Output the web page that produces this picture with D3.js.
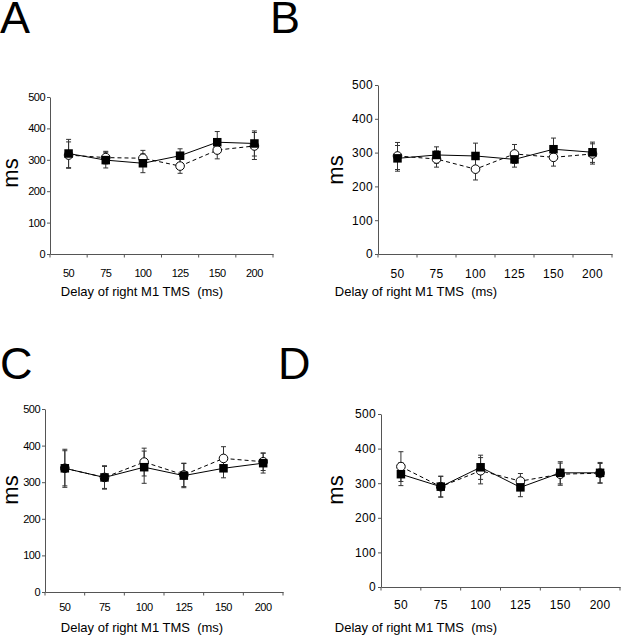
<!DOCTYPE html>
<html>
<head>
<meta charset="utf-8">
<script src="https://cdn.jsdelivr.net/npm/d3@7"></script>
<style>
  html, body { margin: 0; padding: 0; background: #fff; }
  svg { display: block; font-family: "Liberation Sans", Arial, sans-serif; }
</style>
</head>
<body>
<svg id="chart" width="621" height="640"></svg>
<script>
// ---- data ----
const categories = ["50", "75", "100", "125", "150", "200"];
const yTicks = [0, 100, 200, 300, 400, 500];
const panelLabels = ["A", "B", "C", "D"];
const xTitle = "Delay of right M1 TMS  (ms)";
const yTitle = "ms";

// filled squares (solid line)
const squareA = [320, 299, 289, 313, 356, 352];
const squareErrA = [45, 25, 30, 22, 34, 40];
const squareB = [283, 293, 290, 280, 310, 301];
const squareErrB = [38, 24, 38, 23, 33, 30];
const squareC = [338, 313, 341, 318, 338, 352];
const squareErrC = [48, 30, 44, 33, 26, 27];
const squareD = [326, 290, 346, 288, 330, 330];
const squareErrD = [33, 30, 35, 27, 32, 30];

// open circles (dashed line)
const circleA = [315, 307, 305, 280, 331, 344];
const circleErrA = [42, 20, 25, 23, 28, 43];
const circleB = [290, 281, 251, 296, 286, 296];
const circleErrB = [40, 24, 32, 28, 26, 30];
const circleC = [338, 313, 355, 320, 365, 356];
const circleErrC = [52, 32, 38, 32, 32, 24];
const circleD = [348, 290, 336, 306, 326, 329];
const circleErrD = [43, 30, 38, 22, 32, 28];

// ---- layout ----
const panels = [
  { label: panelLabels[0], lx: 0,   ly: 33,  x0: 50,  x1: 273, yb: 254, yt: 97,
    sq: squareA, sqe: squareErrA, ci: circleA, cie: circleErrA,
    tickFont: 11, tickLS: -0.5, xLabelOff: 15, titleX: 142, titleY: 296, msX: 18, msY: 173 },
  { label: panelLabels[1], lx: 270, ly: 33,  x0: 378, x1: 612, yb: 254, yt: 85,
    sq: squareB, sqe: squareErrB, ci: circleB, cie: circleErrB,
    tickFont: 12, tickLS: 0.3, xLabelOff: 15, titleX: 416, titleY: 296, msX: 343, msY: 170 },
  { label: panelLabels[2], lx: 0,   ly: 379, x0: 45,  x1: 283, yb: 592, yt: 409,
    sq: squareC, sqe: squareErrC, ci: circleC, cie: circleErrC,
    tickFont: 11, tickLS: -0.5, xLabelOff: 11, titleX: 142, titleY: 632, msX: 18, msY: 490 },
  { label: panelLabels[3], lx: 278, ly: 379, x0: 381, x1: 620, yb: 587, yt: 414,
    sq: squareD, sqe: squareErrD, ci: circleD, cie: circleErrD,
    tickFont: 12, tickLS: 0.3, xLabelOff: 13.5, titleX: 416, titleY: 632, msX: 343, msY: 490 }
];

const svg = d3.select("#chart");
const axisColor = "#555";

panels.forEach(p => {
  const g = svg.append("g");
  const x = d3.scaleBand().domain(categories).range([p.x0, p.x1]).padding(0);
  const y = d3.scaleLinear().domain([0, 500]).range([p.yb, p.yt]);

  // panel letter
  svg.append("text").attr("x", p.lx).attr("y", p.ly)
    .attr("font-size", 45).attr("fill", "#000").text(p.label);

  // y axis
  const ya = g.append("g").attr("transform", `translate(${p.x0},0)`)
    .call(d3.axisLeft(y).tickValues(yTicks).tickSize(3).tickSizeOuter(0).tickPadding(2));
  ya.selectAll("path, line").attr("stroke", axisColor);
  ya.selectAll("text").attr("font-size", p.tickFont).attr("letter-spacing", p.tickLS)
    .attr("fill", "#000").attr("font-family", "'Liberation Sans', Arial, sans-serif");

  // x axis (labels at band centers)
  const xa = g.append("g").attr("transform", `translate(0,${p.yb})`)
    .call(d3.axisBottom(x).tickSize(0).tickSizeOuter(0).tickPadding(p.xLabelOff));
  xa.select("path").attr("stroke", axisColor);
  xa.selectAll("text").attr("font-size", p.tickFont).attr("letter-spacing", p.tickLS)
    .attr("fill", "#000").attr("font-family", "'Liberation Sans', Arial, sans-serif");

  // tick marks at band boundaries
  const bounds = categories.map(c => x(c)).concat([x(categories[categories.length - 1]) + x.bandwidth()]);
  g.selectAll(".btick").data(bounds).enter().append("line")
    .attr("x1", d => d).attr("x2", d => d)
    .attr("y1", p.yb).attr("y2", p.yb + 3.5)
    .attr("stroke", axisColor).attr("stroke-width", 1);

  // axis titles
  svg.append("text").attr("x", p.titleX).attr("y", p.titleY)
    .attr("text-anchor", "middle").attr("font-size", 13).attr("fill", "#000")
    .style("white-space", "pre").text(xTitle);
  svg.append("text")
    .attr("transform", `translate(${p.msX},${p.msY}) rotate(-90)`)
    .attr("text-anchor", "middle").attr("font-size", 22).attr("fill", "#000")
    .text(yTitle);

  const cx = c => x(c) + x.bandwidth() / 2;

  function drawErr(vals, errs) {
    const eg = g.append("g").attr("stroke", "#333").attr("stroke-width", 1);
    categories.forEach((c, i) => {
      const xc = cx(c);
      eg.append("line").attr("x1", xc).attr("x2", xc)
        .attr("y1", y(vals[i] - errs[i])).attr("y2", y(vals[i] + errs[i]));
      [vals[i] - errs[i], vals[i] + errs[i]].forEach(v => {
        eg.append("line").attr("x1", xc - 2.5).attr("x2", xc + 2.5)
          .attr("y1", y(v)).attr("y2", y(v));
      });
    });
  }

  drawErr(p.ci, p.cie);
  drawErr(p.sq, p.sqe);

  const line = d3.line().x((d, i) => cx(categories[i])).y(d => y(d));

  // dashed circle series
  g.append("path").datum(p.ci).attr("d", line)
    .attr("fill", "none").attr("stroke", "#000").attr("stroke-width", 1)
    .attr("stroke-dasharray", "4,3");
  // solid square series
  g.append("path").datum(p.sq).attr("d", line)
    .attr("fill", "none").attr("stroke", "#000").attr("stroke-width", 1);

  g.selectAll(".circ").data(p.ci).enter().append("circle")
    .attr("cx", (d, i) => cx(categories[i])).attr("cy", d => y(d)).attr("r", 4.3)
    .attr("fill", "#fff").attr("stroke", "#000").attr("stroke-width", 1);

  const s = 8.5;
  g.selectAll(".sq").data(p.sq).enter().append("rect")
    .attr("x", (d, i) => cx(categories[i]) - s / 2).attr("y", d => y(d) - s / 2)
    .attr("width", s).attr("height", s).attr("fill", "#000");
});
</script>
</body>
</html>
